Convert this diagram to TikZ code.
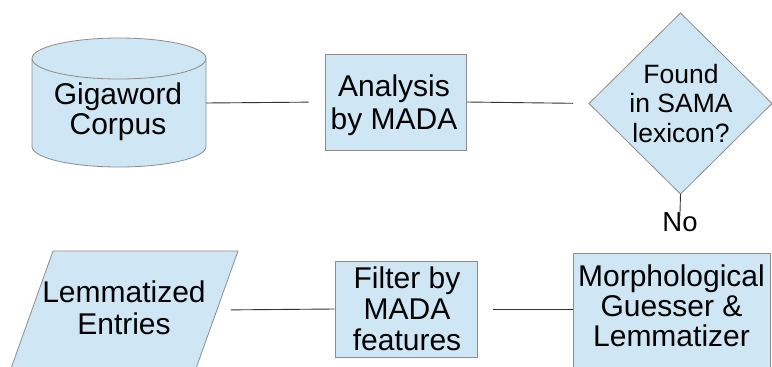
\documentclass[tikz,border=0pt]{standalone}
\usepackage{fontspec}
\setmainfont{Liberation Sans}
\definecolor{shfill}{HTML}{CFE7F5}
\definecolor{shline}{HTML}{8C8C8C}
\definecolor{connc}{HTML}{333333}
\begin{document}
\begin{tikzpicture}[x=1pt,y=-1pt,
  shp/.style={fill=shfill,draw=shline,line width=0.8pt},
  boxnode/.style={shp,rectangle,inner sep=0pt},
  txt/.style={inner sep=0pt,align=center},
  connector/.style={draw=connc,line width=0.9pt}]
\useasboundingbox (0,0) rectangle (772,367);
\clip (0,0) rectangle (772,367);
% cylinder
\path[shp] (32,58.5) -- (32,146.5) arc[start angle=180,end angle=360,x radius=87pt,y radius=20.5pt]
  -- (206,58.5) arc[start angle=0,end angle=180,x radius=87pt,y radius=20.5pt] -- cycle;
\draw[shline,line width=0.8pt] (32,58.5) arc[start angle=180,end angle=360,x radius=87pt,y radius=20.5pt];
\node[txt,font=\fontsize{30}{30}\selectfont] (gw) at (118,112.2) {Gigaword\\Corpus};
\coordinate (gwE) at (206,103);
% analysis box
\node[boxnode,minimum width=141.5,minimum height=96] (an) at (395.75,102) {};
\node[txt,font=\fontsize{30}{32.3}\selectfont] (anT) at (394,105.2) {Analysis\\by MADA};
% diamond
\path[shp] (589,103.5) -- (680.5,13) -- (772,103.5) -- (680.5,194) -- cycle;
\coordinate (dmW) at (589,103.5);
\coordinate (dmS) at (680.5,194);
\node[txt,font=\fontsize{26.5}{29.5}\selectfont] (dmT) at (681,103.1) {Found\\in SAMA\\lexicon?};
\node[txt,font=\fontsize{27.5}{30}\selectfont] (no) at (680,222.2) {No};
% morph box
\node[boxnode,minimum width=197,minimum height=130,anchor=north west] (mo) at (573,252.7) {};
\node[txt,font=\fontsize{30}{30}\selectfont] (moT) at (671.5,305.9) {Morphological\\Guesser \&\\Lemmatizer};
% filter box
\node[boxnode,minimum width=142,minimum height=96] (fi) at (406,309) {};
\node[txt,font=\fontsize{30}{31}\selectfont] (fiT) at (407,308.4) {Filter by\\MADA\\features};
% parallelogram
\path[shp] (53,251) -- (238,251) -- (195.8,369) -- (10.8,369) -- cycle;
\coordinate (leE) at (217,310);
\node[txt,font=\fontsize{30}{32}\selectfont] (le) at (124,308.2) {Lemmatized\\Entries};
% connectors
\draw[connector,shorten >=16pt] (gwE) -- (an.west);
\draw[connector,shorten >=16pt] (an.east) -- (dmW);
\draw[connector,shorten >=-4pt] (dmS) -- (no.north);
\draw[connector,shorten <=16pt] (fi.east) -- (fi.east -| mo.west);
\draw[connector,shorten <=14pt] (leE) -- (fi.west);
\end{tikzpicture}
\end{document}
